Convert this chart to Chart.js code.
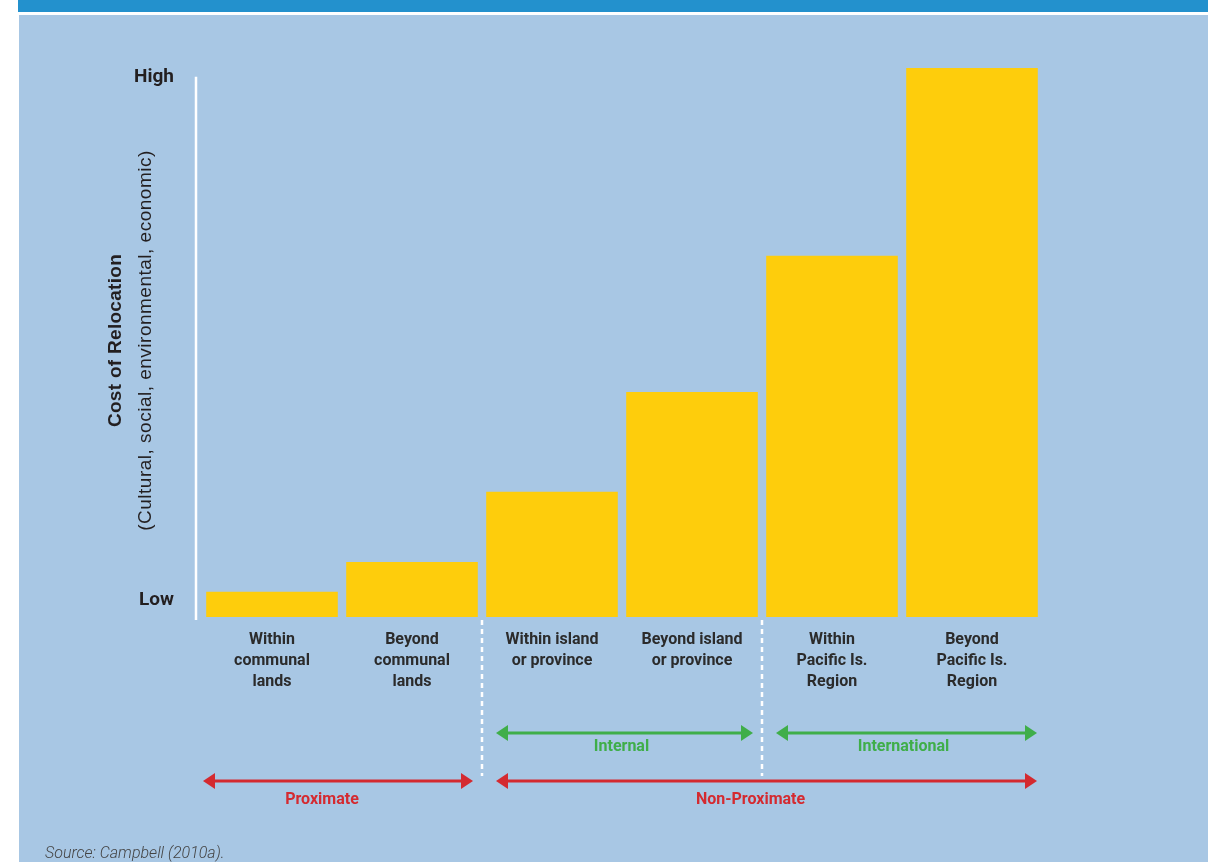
<!DOCTYPE html>
<html>
<head>
<meta charset="utf-8">
<script src="https://cdn.jsdelivr.net/npm/chart.js@4.4.1/dist/chart.umd.min.js"></script>
<style>
  body { margin: 0; background: #fff; width: 1208px; height: 862px; overflow: hidden; position: relative; font-family: Roboto, sans-serif; }
  #topbar { position: absolute; left: 18px; top: 0; width: 1190px; height: 12px; background: #2391cd; }
  #panel { position: absolute; left: 19px; top: 15px; width: 1189px; height: 847px; background: #a8c7e4; }
  #wrap { position: absolute; left: 0; top: 0; width: 1208px; height: 862px; }
  #source { position: absolute; left: 45px; top: 843px; font: italic 300 16px Roboto, sans-serif; color: #444; }
</style>
</head>
<body>
<div id="topbar"></div>
<div id="panel"></div>
<div id="wrap"><canvas id="chart"></canvas></div>
<div id="source">Source: Campbell (2010a).</div>
<script>
// categories along the distance axis
const categories = [
  ["Within", "communal", "lands"],
  ["Beyond", "communal", "lands"],
  ["Within island", "or province"],
  ["Beyond island", "or province"],
  ["Within", "Pacific Is.", "Region"],
  ["Beyond", "Pacific Is.", "Region"]
];
const costValues = [4.6, 10, 22.8, 41, 65.8, 100];

// y axis only marks the two ends
const tickValues = [3.0, 98.4];
const tickLabels = ["Low", "High"];

// bracket arrows under the categories
const groupLabels = ["Internal", "International", "Proximate", "Non-Proximate"];
const groupFrom = [2, 4, 0, 2];
const groupTo = [3, 5, 1, 5];
const groupRow = [0, 0, 1, 1];
const dividerAfter = [1, 3];

const textDark = "#231f20";
const rowColor = ["#3fae49", "#d42a30"];
const rowLineY = [116, 164];   // below the chart bottom
const rowTextY = [130, 183];
const rowTextShift = [-3, -16];

function drawArrow(ctx, x1, x2, y, color) {
  ctx.save();
  ctx.strokeStyle = color;
  ctx.fillStyle = color;
  ctx.lineWidth = 3;
  ctx.beginPath();
  ctx.moveTo(x1 + 8, y);
  ctx.lineTo(x2 - 8, y);
  ctx.stroke();
  ctx.beginPath();
  ctx.moveTo(x1, y);
  ctx.lineTo(x1 + 12, y - 8);
  ctx.lineTo(x1 + 12, y + 8);
  ctx.closePath();
  ctx.fill();
  ctx.beginPath();
  ctx.moveTo(x2, y);
  ctx.lineTo(x2 - 12, y - 8);
  ctx.lineTo(x2 - 12, y + 8);
  ctx.closePath();
  ctx.fill();
  ctx.restore();
}

const extras = {
  id: "extras",
  afterDraw(chart) {
    const ctx = chart.ctx;
    const area = chart.chartArea;
    const x = chart.scales.x;
    const y = chart.scales.y;
    const half = (x.getPixelForValue(1) - x.getPixelForValue(0)) / 2;

    // y axis line, from High down to the base
    ctx.save();
    ctx.strokeStyle = "#fff";
    ctx.lineWidth = 2.5;
    ctx.beginPath();
    ctx.moveTo(area.left - 6, y.getPixelForValue(tickValues[1]));
    ctx.lineTo(area.left - 6, area.bottom + 3);
    ctx.stroke();

    // axis titles, rotated
    const midY = (area.top + area.bottom) / 2 - 2;
    ctx.translate(116, midY);
    ctx.rotate(-Math.PI / 2);
    ctx.fillStyle = textDark;
    ctx.textAlign = "center";
    ctx.textBaseline = "middle";
    ctx.font = "bold 19px 'Liberation Sans'";
    ctx.letterSpacing = "0.3px";
    ctx.fillText("Cost of Relocation", 0, 0);
    ctx.font = "19px 'Liberation Sans'";
    ctx.letterSpacing = "0.5px";
    ctx.fillText("(Cultural, social, environmental, economic)", 0, 30);
    ctx.restore();

    // dashed dividers
    ctx.save();
    ctx.strokeStyle = "#fff";
    ctx.lineWidth = 2.5;
    ctx.setLineDash([5, 4]);
    dividerAfter.forEach(i => {
      const dx = x.getPixelForValue(i) + half;
      ctx.beginPath();
      ctx.moveTo(dx, area.bottom + 3);
      ctx.lineTo(dx, area.bottom + 159);
      ctx.stroke();
    });
    ctx.restore();

    // group arrows and labels
    groupLabels.forEach((label, i) => {
      const from = groupFrom[i], to = groupTo[i], row = groupRow[i];
      const left = x.getPixelForValue(from) - half + (from === 0 ? 1 : 14);
      const right = x.getPixelForValue(to) + half - (to === categories.length - 1 ? 5 : 9);
      drawArrow(ctx, left, right, area.bottom + rowLineY[row], rowColor[row]);
      ctx.save();
      ctx.fillStyle = rowColor[row];
      ctx.font = "bold 16px Roboto";
      ctx.textAlign = "center";
      ctx.textBaseline = "middle";
      ctx.fillText(label, (left + right) / 2 + rowTextShift[row], area.bottom + rowTextY[row]);
      ctx.restore();
    });
  }
};

new Chart(document.getElementById("chart"), {
  type: "bar",
  data: {
    labels: categories,
    datasets: [{
      data: costValues,
      backgroundColor: "#fecd0c",
      borderWidth: 0,
      barPercentage: 0.94,
      categoryPercentage: 1
    }]
  },
  options: {
    responsive: true,
    maintainAspectRatio: false,
    animation: false,
    layout: { padding: { top: 68, right: 166, left: 0, bottom: 0 } },
    plugins: { legend: { display: false }, tooltip: { enabled: false } },
    scales: {
      x: {
        grid: { display: false, drawTicks: false },
        border: { display: false },
        ticks: {
          color: "#2b2b2b",
          font: { family: "Roboto", weight: "bold", size: 16, lineHeight: 1.3 },
          padding: 13,
          maxRotation: 0,
          autoSkip: false
        },
        afterFit(scale) { scale.height = 245; }
      },
      y: {
        min: 0,
        max: 100,
        grid: { display: false, drawTicks: false },
        border: { display: false },
        ticks: {
          color: textDark,
          font: { family: "Roboto", weight: "bold", size: 19 },
          padding: 28,
          callback: (v, i) => tickLabels[i]
        },
        afterBuildTicks(scale) { scale.ticks = tickValues.map(v => ({ value: v })); },
        afterFit(scale) { scale.width = 202; }
      }
    }
  },
  plugins: [extras]
});
</script>
</body>
</html>
